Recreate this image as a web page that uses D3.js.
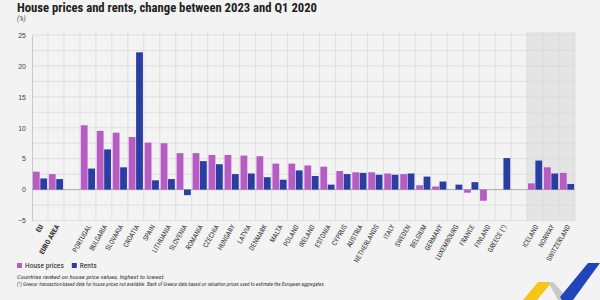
<!DOCTYPE html>
<html><head><meta charset="utf-8">
<script src="https://cdn.jsdelivr.net/npm/d3@7/dist/d3.min.js"></script>
<style>
html,body{margin:0;padding:0;background:#f3f3f3;}
svg{display:block;font-family:"Liberation Sans Narrow","Roboto Condensed","Roboto","Liberation Sans",sans-serif;}
</style></head>
<body><svg id="c" width="600" height="300"></svg>
<script>
const categories = ["EU","EURO AREA","","PORTUGAL","BULGARIA","SLOVAKIA","CROATIA","SPAIN","LITHUANIA","SLOVENIA","ROMANIA","CZECHIA","HUNGARY","LATVIA","DENMARK","MALTA","POLAND","IRELAND","ESTONIA","CYPRUS","AUSTRIA","NETHERLANDS","ITALY","SWEDEN","BELGIUM","GERMANY","LUXEMBOURG","FRANCE","FINLAND","GREECE (¹)"," ","ICELAND","NORWAY","SWITZERLAND"];
const housePrices = [2.9,2.5,null,10.4,9.5,9.2,8.5,7.6,7.5,5.9,5.9,5.6,5.6,5.5,5.4,4.2,4.2,3.9,3.7,3.0,2.8,2.8,2.6,2.5,0.7,0.5,null,-0.5,-1.8,null,null,1.0,3.6,2.7];
const rents = [1.8,1.7,null,3.4,6.5,3.6,22.2,1.5,1.7,-0.9,4.6,4.1,2.5,2.6,2.0,1.6,3.1,2.2,0.8,2.5,2.7,2.4,2.4,2.6,2.1,1.3,0.8,1.2,null,5.1,null,4.7,2.6,0.9];
const yTicks = [-5,0,5,10,15,20,25];
const efta = ["ICELAND","NORWAY","SWITZERLAND"];
const seriesNames = ["House prices","Rents"];
const colors = ["#b65cc4","#2a3da4"];

const svg = d3.select("#c");
const L=32,R=575,T=35,B=220.5;
const x = d3.scaleBand().domain(categories).range([L,R]).padding(0);
const x1 = d3.scaleBand().domain([0,1]).range([0,x.bandwidth()]).paddingInner(0.08).paddingOuter(0.12);
const y = d3.scaleLinear().domain([-5,25]).range([B,T]);

svg.append("rect").attr("x",x(efta[0])).attr("y",T-3).attr("width",R-x(efta[0])).attr("height",B-T+3).attr("fill","#e4e4e4");

const gridVals = d3.range(-5,25.01,2.5);
svg.append("g").selectAll("line").data(gridVals).join("line")
 .attr("x1",L).attr("x2",R).attr("y1",d=>y(d)).attr("y2",d=>y(d))
 .attr("stroke","#d8d8d8").attr("stroke-width",0.7);
svg.append("g").selectAll("line").data(categories.slice(1)).join("line")
 .attr("x1",d=>x(d)).attr("x2",d=>x(d)).attr("y1",T-3).attr("y2",B)
 .attr("stroke","#d8d8d8").attr("stroke-width",0.7);
svg.append("line").attr("x1",R).attr("x2",R).attr("y1",T-3).attr("y2",B).attr("stroke","#d8d8d8").attr("stroke-width",0.7);

const ya = d3.axisLeft(y).tickValues(yTicks).tickSize(0).tickPadding(6);
const gy = svg.append("g").attr("transform",`translate(${L},0)`).call(ya);
gy.select(".domain").attr("stroke","#bbb").attr("stroke-width",0.8);
gy.selectAll("text").attr("font-size",7).attr("fill","#444");

svg.append("line").attr("x1",L).attr("x2",R).attr("y1",y(0)).attr("y2",y(0)).attr("stroke","#999").attr("stroke-width",0.7);

const data = categories.map((c,i)=>({c,v:[housePrices[i],rents[i]]}));
const g = svg.append("g");
data.forEach(d=>{
  d.v.forEach((v,k)=>{
    if(v===null) return;
    g.append("rect").attr("x",x(d.c)+x1(k)).attr("width",x1.bandwidth())
     .attr("y",y(Math.max(0,v))).attr("height",Math.abs(y(v)-y(0)))
     .attr("fill",colors[k]);
  });
});

const xa = svg.append("g");
categories.forEach(c=>{
  if(!c.trim()) return;
  const cx = x(c)+x.bandwidth()/2+2;
  xa.append("text").attr("transform",`translate(${cx},${B+5}) rotate(-60)`)
   .attr("text-anchor","end").attr("dominant-baseline","middle")
   .attr("font-size",7).attr("fill","#333").attr("font-weight", (c==="EU"||c==="EURO AREA")?"bold":"normal").text(c);
});

svg.append("text").attr("x",17).attr("y",12).attr("font-size",12).attr("font-weight","bold").attr("fill","#222")
 .attr("textLength",300).attr("lengthAdjust","spacingAndGlyphs")
 .text("House prices and rents, change between 2023 and Q1 2020");
svg.append("text").attr("x",17).attr("y",21).attr("font-size",7).attr("font-style","italic").attr("fill","#444").text("(%)");

const lg = svg.append("g").attr("transform","translate(17,263)");
let lx=0;
seriesNames.forEach((n,i)=>{
  lg.append("rect").attr("x",lx).attr("y",0).attr("width",5).attr("height",5).attr("fill",colors[i]);
  const t = lg.append("text").attr("x",lx+8).attr("y",5).attr("font-size",7.5).attr("fill","#222").text(n);
  lx += 8 + t.node().getComputedTextLength() + 8;
});

svg.append("text").attr("x",17).attr("y",279).attr("font-size",5.5).attr("font-style","italic").attr("fill","#333")
 .attr("textLength",148).attr("lengthAdjust","spacingAndGlyphs")
 .text("Countries ranked on house price values, highest to lowest.");
svg.append("text").attr("x",17).attr("y",285.5).attr("font-size",5.5).attr("font-style","italic").attr("fill","#333")
 .attr("textLength",308).attr("lengthAdjust","spacingAndGlyphs")
 .text("(¹) Greece: transaction-based data for house prices not available. Bank of Greece data based on valuation prices used to estimate the European aggregates.");

const logo = svg.append("g");
logo.append("polygon").attr("points","523,300 538,282 552,282 537,300").attr("fill","#f5c518");
logo.append("polygon").attr("points","548,282 553,282 566,296 562,300 558,300").attr("fill","#c9c9c9");
logo.append("polygon").attr("points","560,297 588,263 600,263 573,300 562,300").attr("fill","#1f45b8");
</script></body></html>
